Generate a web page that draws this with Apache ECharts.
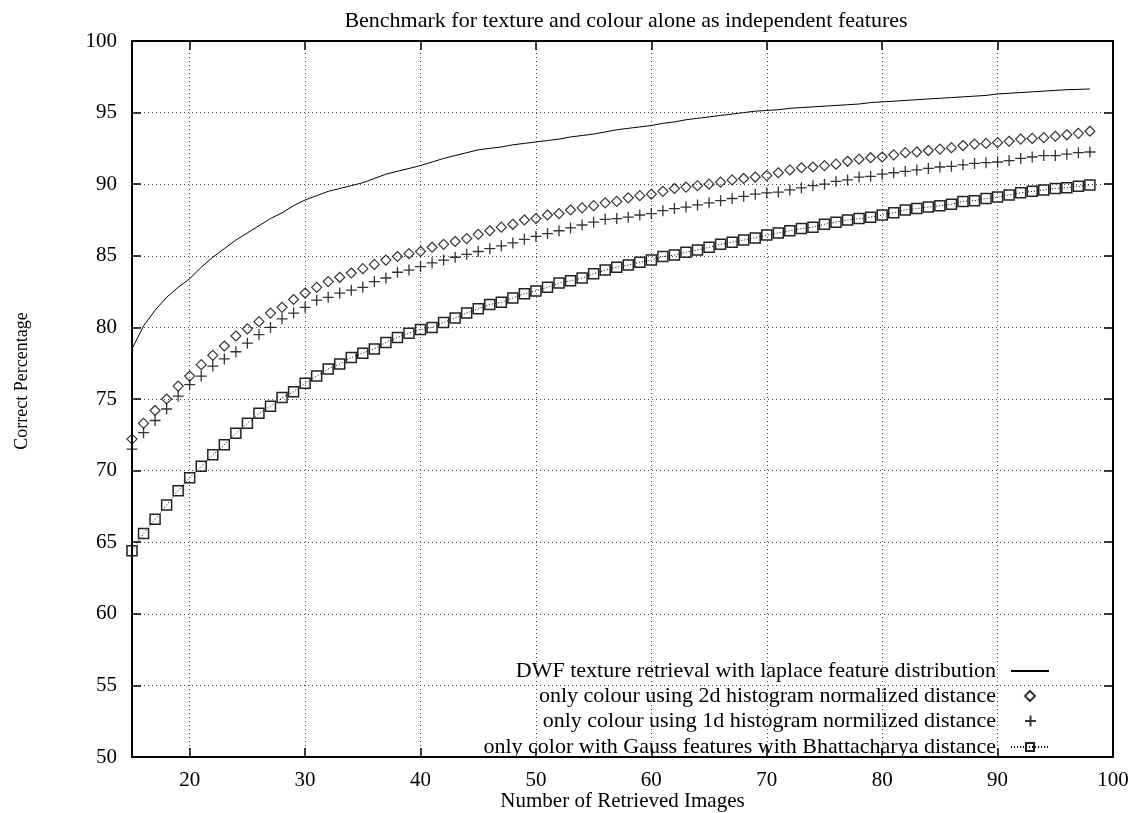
<!DOCTYPE html>
<html>
<head>
<meta charset="utf-8">
<script src="https://cdn.jsdelivr.net/npm/echarts@6/dist/echarts.min.js"></script>
<style>
    html, body { margin: 0; padding: 0; background: #fff; }
    #chart { width: 1130px; height: 813px; }
</style>
</head>
<body>
<div id="chart"></div>
<script>
// number of retrieved images
const retrieved = [15, 16, 17, 18, 19, 20, 21, 22, 23, 24, 25, 26, 27, 28, 29, 30, 31, 32, 33, 34,
    35, 36, 37, 38, 39, 40, 41, 42, 43, 44, 45, 46, 47, 48, 49, 50, 51, 52, 53, 54,
    55, 56, 57, 58, 59, 60, 61, 62, 63, 64, 65, 66, 67, 68, 69, 70, 71, 72, 73, 74,
    75, 76, 77, 78, 79, 80, 81, 82, 83, 84, 85, 86, 87, 88, 89, 90, 91, 92, 93, 94,
    95, 96, 97, 98]

const dwfLaplace = [78.5, 80.1, 81.2, 82.1, 82.8, 83.4, 84.2, 84.9, 85.5, 86.1, 86.6, 87.1, 87.6, 88.0, 88.5, 88.9, 89.2, 89.5, 89.7, 89.9,
    90.1, 90.4, 90.7, 90.9, 91.1, 91.3, 91.55, 91.8, 92.0, 92.2, 92.4, 92.5, 92.6, 92.75, 92.85, 92.95, 93.05, 93.15, 93.3, 93.4,
    93.5, 93.65, 93.8, 93.9, 94.0, 94.1, 94.25, 94.35, 94.5, 94.6, 94.7, 94.8, 94.9, 95.0, 95.1, 95.15, 95.2, 95.3, 95.35, 95.4,
    95.45, 95.5, 95.55, 95.6, 95.7, 95.75, 95.8, 95.85, 95.9, 95.95, 96.0, 96.05, 96.1, 96.15, 96.2, 96.3, 96.35, 96.4, 96.45, 96.5,
    96.55, 96.6, 96.62, 96.65]

const hist2d = [72.2, 73.3, 74.2, 75.0, 75.9, 76.6, 77.4, 78.05, 78.7, 79.4, 79.9, 80.4, 81.0, 81.4, 81.95, 82.4, 82.8, 83.2, 83.5, 83.8,
    84.1, 84.4, 84.7, 84.95, 85.15, 85.3, 85.6, 85.8, 86.0, 86.2, 86.5, 86.75, 87.0, 87.2, 87.5, 87.6, 87.85, 87.95, 88.2, 88.35,
    88.5, 88.7, 88.8, 89.05, 89.2, 89.3, 89.5, 89.7, 89.8, 89.9, 90.0, 90.15, 90.3, 90.4, 90.5, 90.6, 90.8, 91.0, 91.15, 91.2,
    91.3, 91.4, 91.6, 91.75, 91.85, 91.9, 92.05, 92.2, 92.25, 92.35, 92.45, 92.55, 92.7, 92.8, 92.85, 92.9, 93.0, 93.15, 93.2, 93.25,
    93.35, 93.45, 93.55, 93.7]

const hist1d = [71.5, 72.65, 73.5, 74.3, 75.2, 76.0, 76.6, 77.3, 77.8, 78.3, 78.9, 79.5, 80.0, 80.6, 81.0, 81.4, 81.9, 82.1, 82.4, 82.6,
    82.8, 83.2, 83.45, 83.85, 84.0, 84.25, 84.5, 84.7, 84.9, 85.1, 85.3, 85.5, 85.7, 85.9, 86.15, 86.35, 86.55, 86.75, 86.95, 87.15,
    87.35, 87.55, 87.6, 87.7, 87.85, 87.95, 88.15, 88.3, 88.4, 88.55, 88.7, 88.85, 89.0, 89.15, 89.3, 89.4, 89.45, 89.6, 89.75, 89.9,
    90.0, 90.2, 90.3, 90.5, 90.55, 90.7, 90.8, 90.9, 91.0, 91.1, 91.2, 91.25, 91.35, 91.45, 91.5, 91.55, 91.65, 91.8, 91.9, 92.0,
    92.0, 92.1, 92.2, 92.25]

const gaussBhatt = [64.4, 65.6, 66.6, 67.6, 68.6, 69.5, 70.3, 71.1, 71.8, 72.6, 73.3, 74.0, 74.5, 75.1, 75.5, 76.1, 76.6, 77.1, 77.45, 77.9,
    78.2, 78.5, 78.95, 79.3, 79.6, 79.85, 80.0, 80.35, 80.65, 81.0, 81.3, 81.6, 81.75, 82.05, 82.35, 82.55, 82.8, 83.1, 83.25, 83.45,
    83.75, 84.0, 84.2, 84.35, 84.55, 84.7, 84.95, 85.05, 85.25, 85.4, 85.6, 85.8, 85.95, 86.1, 86.25, 86.45, 86.6, 86.75, 86.9, 87.0,
    87.2, 87.35, 87.5, 87.6, 87.7, 87.85, 88.0, 88.2, 88.3, 88.4, 88.5, 88.6, 88.8, 88.85, 89.0, 89.1, 89.25, 89.4, 89.5, 89.6,
    89.7, 89.75, 89.85, 89.95]

const xTicks = [20, 30, 40, 50, 60, 70, 80, 90, 100]

const names = [
    "DWF texture retrieval with laplace feature distribution",
    "only colour using 2d histogram normalized distance",
    "only colour using 1d histogram normilized distance",
    "only color with Gauss features with Bhattacharya distance"
]

const font = "Liberation Serif"
const pairs = ys => retrieved.map((x, i) => [x, ys[i]])

const gridLine = { show: true, lineStyle: { color: "#444", type: [1, 3], width: 1 } }
const frame = { show: true, onZero: false, lineStyle: { color: "#000", width: 2 } }
const tick = { show: true, inside: true, length: 9, lineStyle: { color: "#000", width: 1.5 } }

// one legend per row so every row is right aligned like gnuplot's key
function legendRow(name, top, right, w, h, gap, extra) {
    return Object.assign({
        data: [name],
        right: right,
        top: top,
        orient: "vertical",
        align: "right",
        itemWidth: w,
        itemHeight: h,
        padding: 0,
        textStyle: { fontFamily: font, fontSize: 22, color: "#000", padding: [0, gap, 0, 0] }
    }, extra || {})
}

let myChart = echarts.init(document.getElementById("chart"))
myChart.setOption({
    animation: false,
    backgroundColor: "#fff",
    title: {
        text: "Benchmark for texture and colour alone as independent features",
        left: 621,
        top: 5,
        textAlign: "center",
        textStyle: { fontFamily: font, fontSize: 22, fontWeight: "normal", color: "#000" }
    },
    legend: [
        legendRow(names[0], 660, 80, 38, 10, 10, { itemStyle: { opacity: 0 } }),
        legendRow(names[1], 685, 94, 10, 10, 24),
        legendRow(names[2], 710, 93, 11, 11, 24),
        legendRow(names[3], 736, 80, 38, 10, 10)
    ],
    grid: { left: 132, right: 17, top: 41, bottom: 56, containLabel: false, outerBoundsMode: "none" },
    xAxis: [
        {
            type: "value",
            min: 15,
            max: 100,
            name: "Number of Retrieved Images",
            nameLocation: "middle",
            nameGap: 34,
            nameMoveOverlap: false,
            nameTextStyle: { fontFamily: font, fontSize: 21, color: "#000" },
            axisLine: frame,
            axisTick: Object.assign({ customValues: xTicks }, tick),
            axisLabel: { customValues: xTicks, fontFamily: font, fontSize: 21, color: "#000", margin: 13 },
            splitLine: gridLine
        },
        {
            type: "value",
            position: "top",
            min: 15,
            max: 100,
            axisLine: frame,
            axisTick: Object.assign({ customValues: xTicks }, tick),
            axisLabel: { show: false, customValues: xTicks },
            splitLine: { show: false }
        }
    ],
    yAxis: [
        {
            type: "value",
            min: 50,
            max: 100,
            interval: 5,
            name: "Correct Percentage",
            nameLocation: "middle",
            nameGap: 101,
            nameMoveOverlap: false,
            nameTextStyle: { fontFamily: font, fontSize: 18, color: "#000", padding: [0, 0, 0, 36] },
            axisLine: frame,
            axisTick: tick,
            axisLabel: { fontFamily: font, fontSize: 21, color: "#000", margin: 15 },
            splitLine: gridLine
        },
        {
            type: "value",
            position: "right",
            min: 50,
            max: 100,
            interval: 5,
            axisLine: frame,
            axisTick: tick,
            axisLabel: { show: false },
            splitLine: { show: false }
        }
    ],
    series: [
        {
            name: names[0],
            type: "line",
            data: pairs(dwfLaplace),
            symbol: "none",
            lineStyle: { color: "#000", width: 1 },
            itemStyle: { color: "#000" }
        },
        {
            name: names[1],
            type: "scatter",
            data: pairs(hist2d),
            symbol: "diamond",
            symbolSize: [10, 10],
            itemStyle: { color: "rgba(0,0,0,0)", borderColor: "#000", borderWidth: 1.2 }
        },
        {
            name: names[2],
            type: "scatter",
            data: pairs(hist1d),
            symbol: "path://M0,5L10,5M5,0L5,10",
            symbolSize: 11,
            itemStyle: { color: "rgba(0,0,0,0)", borderColor: "#000", borderWidth: 1.3 }
        },
        {
            name: names[3],
            type: "line",
            data: pairs(gaussBhatt),
            symbol: "rect",
            symbolSize: 10,
            showAllSymbol: true,
            lineStyle: { color: "#000", width: 1, type: [1, 2] },
            itemStyle: { color: "rgba(0,0,0,0)", borderColor: "#222", borderWidth: 1.5 }
        }
    ]
})
</script>
</body>
</html>
